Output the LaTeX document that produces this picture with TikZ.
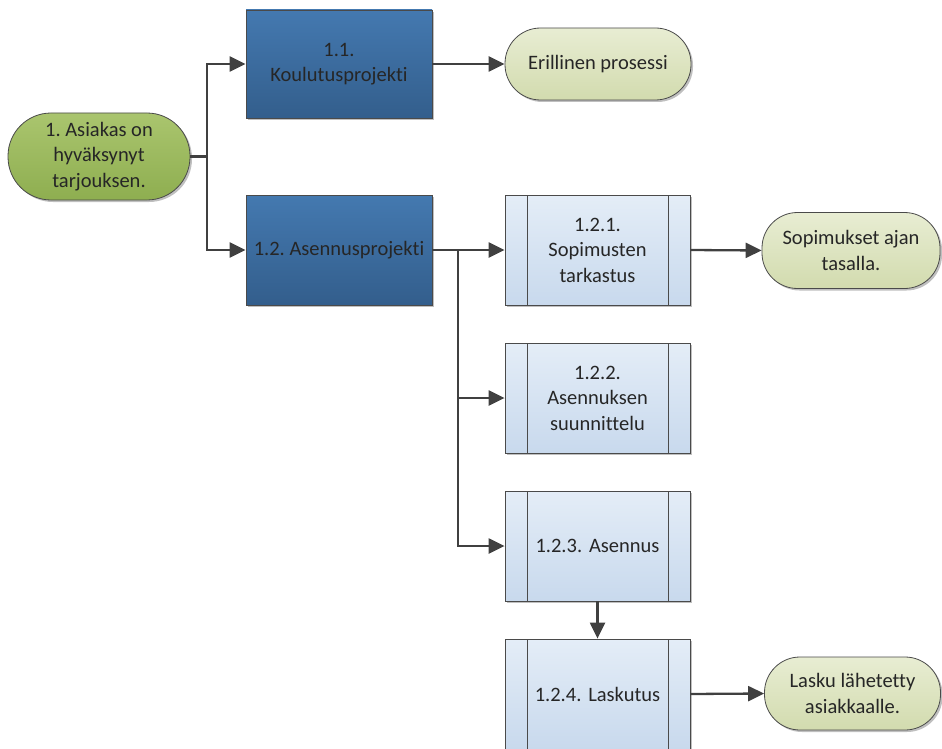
\documentclass[tikz,border=0pt]{standalone}
\usepackage{fontspec}
\setmainfont[Ligatures=NoCommon]{Carlito}
\usetikzlibrary{arrows.meta,shadows}
\definecolor{dbTop}{HTML}{4479B0}
\definecolor{dbBot}{HTML}{335E8C}
\definecolor{lbTop}{HTML}{E4EDF7}
\definecolor{lbBot}{HTML}{C8D9ED}
\definecolor{gTop}{HTML}{AAC56E}
\definecolor{gBot}{HTML}{8EAE50}
\definecolor{tTop}{HTML}{E8EDD3}
\definecolor{tBot}{HTML}{D2DBAE}
\definecolor{edge}{HTML}{4A4A4A}
\definecolor{lineC}{HTML}{404040}
\definecolor{txt}{HTML}{262626}
\frenchspacing
\begin{document}
\begin{tikzpicture}[x=1pt,y=-1pt,
  every node/.style={font=\fontsize{20.5}{25.5}\selectfont, align=center, text=txt},
  shad/.style={drop shadow={shadow xshift=2pt, shadow yshift=-2pt, opacity=0.25, fill=black}},
  darkbox/.style={rectangle, draw=edge, line width=0.8pt, top color=dbTop, bottom color=dbBot, minimum width=186pt, minimum height=108pt, inner sep=2pt, shad},
  subproc/.style={rectangle, draw=edge, line width=0.8pt, top color=lbTop, bottom color=lbBot, minimum width=185pt, minimum height=110pt, text width=140pt, shad,
    path picture={
      \draw[edge, line width=0.8pt] ([xshift=22pt]path picture bounding box.north west) -- ([xshift=22pt]path picture bounding box.south west);
      \draw[edge, line width=0.8pt] ([xshift=-22pt]path picture bounding box.north east) -- ([xshift=-22pt]path picture bounding box.south east);
    }},
  term/.style={rectangle, draw=edge, line width=0.8pt, top color=tTop, bottom color=tBot, minimum width=#1, rounded corners=35.5pt, minimum height=73pt, inner sep=2pt, shad},
  startn/.style={rectangle, draw=edge, line width=0.8pt, top color=gTop, bottom color=gBot, minimum width=182pt, minimum height=87pt, rounded corners=43pt, inner sep=2pt, shad},
  conn/.style={draw=lineC, line width=2.3pt, -{Triangle[length=16pt, width=15pt]}},
  plain/.style={draw=lineC, line width=2.3pt}
]
\useasboundingbox (0,0) rectangle (942,749);

\node[startn] (start) at (99,156.5) {1. Asiakas on\\hyväksynyt\\tarjouksen.};
\node[darkbox] (b11) at (339,64) {1.1.\\Koulutusprojekti};
\node[term=186pt, minimum height=72pt] (er) at (598,64) {Erillinen prosessi};
\node[darkbox, minimum height=110pt] (b12) at (339,250) {1.2. Asennusprojekti};
\node[subproc] (b121) at (597.5,250) {1.2.1.\\Sopimusten\\tarkastus};
\node[term=178pt, minimum height=76pt] (sop) at (851,250.5) {Sopimukset ajan\\tasalla.};
\node[subproc] (b122) at (597.5,398) {1.2.2.\\Asennuksen\\suunnittelu};
\node[subproc] (b123) at (597.5,546) {1.2.3. Asennus};
\node[subproc] (b124) at (597.5,694) {1.2.4. Laskutus};
\node[term=176pt] (lasku) at (852.5,693.5) {Lasku lähetetty\\asiakkaalle.};

\coordinate (j1) at (207,156.5);
\draw[plain] (start.east) -- (j1);
\draw[conn] (j1) |- (b11.west);
\draw[conn] (j1) |- (b12.west);
\draw[conn] (b11.east) -- (er.west);
\draw[conn] (b12.east) -- (b121.west);
\coordinate (j2) at (458,250);
\draw[conn] (j2) |- (b122.west);
\draw[conn] (j2) |- (b123.west);
\draw[conn] (b121.east) -- (sop.west);
\draw[conn] (b123.south) -- (b124.north);
\draw[conn] (b124.east) -- (lasku.west);
\end{tikzpicture}
\end{document}
